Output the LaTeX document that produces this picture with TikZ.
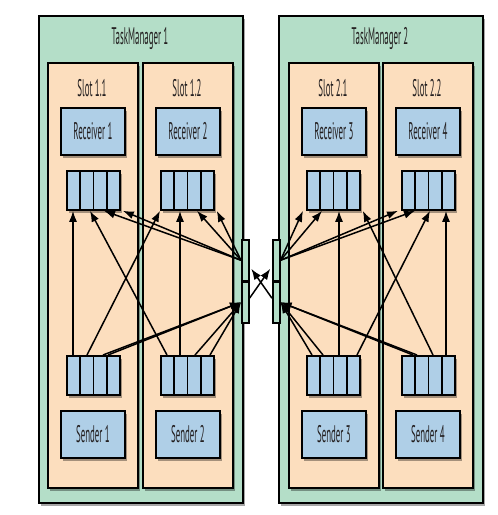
\documentclass[tikz,border=0pt]{standalone}
\usepackage{fontspec}
\newfontfamily\lblfont{PT Sans}[FakeStretch=0.37]
\usetikzlibrary{shadows,arrows.meta,calc}
\definecolor{tmgreen}{RGB}{180,222,200}
\definecolor{slotpeach}{RGB}{252,222,190}
\definecolor{boxblue}{RGB}{175,207,231}
\definecolor{inkc}{RGB}{35,31,32}
\tikzset{
  shad/.style={drop shadow={shadow xshift=2pt, shadow yshift=-3pt, opacity=0.35, fill=black}},
  tmbox/.style={draw=black, line width=1.8pt, fill=tmgreen, shad, rectangle, inner sep=0pt, anchor=north west, minimum width=204pt, minimum height=487pt},
  slotbox/.style={draw=black, line width=1.6pt, fill=slotpeach, shad, rectangle, inner sep=0pt, anchor=north west, minimum width=90pt, minimum height=425pt},
  comp/.style={draw=black, line width=1.8pt, fill=boxblue, shad, rectangle, inner sep=0pt, anchor=north west, minimum width=64pt, minimum height=47pt, font=\lblfont\fontsize{24}{28}\selectfont, text=inkc},
  queue/.style={draw=black, line width=1.8pt, fill=boxblue, shad, rectangle, inner sep=0pt, anchor=north west, minimum width=53pt, minimum height=39pt},
  netbox/.style={draw=black, line width=1.5pt, fill=tmgreen, rectangle, inner sep=0pt, anchor=north west, minimum width=7pt, minimum height=41pt},
  lbl/.style={font=\lblfont\fontsize{24}{28}\selectfont, text=inkc, inner sep=0pt},
  conn/.style={line width=1.5pt, draw=black, -{Latex[length=11pt,width=8pt]}},
}
\begin{document}
\begin{tikzpicture}[x=1pt,y=-1pt]
\useasboundingbox (0,0) rectangle (498,515);
% task managers
\node[tmbox] (tm1) at (38,15) {};
\node[tmbox] (tm2) at (278,15) {};
\node[lbl] (tm1t) at (140,38) {TaskManager 1};
\node[lbl] (tm2t) at (380,38) {TaskManager 2};
% slots
\node[slotbox] (sl11) at (47,62) {};
\node[slotbox] (sl12) at (142,62) {};
\node[slotbox] (sl21) at (288,62) {};
\node[slotbox] (sl22) at (382,62) {};
\node[lbl] (sl11t) at (92,88) {Slot 1.1};
\node[lbl] (sl12t) at (187,88) {Slot 1.2};
\node[lbl] (sl21t) at (333,88) {Slot 2.1};
\node[lbl] (sl22t) at (427,88) {Slot 2.2};
% receivers and senders
\node[comp] (r1) at (60,107) {Receiver 1};
\node[comp] (r2) at (155,107) {Receiver 2};
\node[comp] (r3) at (301,107) {Receiver 3};
\node[comp] (r4) at (395,107) {Receiver 4};
\node[comp] (s1) at (60,410) {Sender 1};
\node[comp] (s2) at (155,410) {Sender 2};
\node[comp] (s3) at (301,410) {Sender 3};
\node[comp] (s4) at (395,410) {Sender 4};
% queues
\node[queue] (q1) at (66,170) {};
\node[queue] (q2) at (160,170) {};
\node[queue] (q3) at (306,170) {};
\node[queue] (q4) at (401,170) {};
\node[queue] (sq1) at (66,355) {};
\node[queue] (sq2) at (160,355) {};
\node[queue] (sq3) at (306,355) {};
\node[queue] (sq4) at (401,355) {};
\foreach \q in {q1,q2,q3,q4,sq1,sq2,sq3,sq4}{
  \foreach \i in {1,2,3}{
    \draw[line width=1.6pt] ($(\q.north west)!\i/4!(\q.north east)$) -- ($(\q.south west)!\i/4!(\q.south east)$);
  }
}
% network buffers
\node[netbox] (n1in) at (241,239) {};
\node[netbox] (n1out) at (241,281) {};
\node[netbox] (n2in) at (272,239) {};
\node[netbox] (n2out) at (272,281) {};
% TM1 local connections
\draw[conn] ([xshift=7pt]sq1.north west) -- ([xshift=7pt]q1.south west);
\draw[conn] ([xshift=7pt]sq2.north west) -- ([xshift=24pt]q1.south west);
\draw[conn] ([xshift=21pt]sq1.north west) -- ([xshift=0pt]q2.south west);
\draw[conn] ([xshift=20pt]sq2.north west) -- ([xshift=20pt]q2.south west);
% TM1 incoming from network
\draw[conn] (n1in.west) -- ([xshift=38pt]q1.south west);
\draw[conn] (n1in.west) -- ([xshift=2pt]q1.south east);
\draw[conn] (n1in.west) -- ([xshift=37pt]q2.south west);
\draw[conn] (n1in.west) -- ([xshift=2pt]q2.south east);
% TM1 outgoing to network
\draw[conn] ([xshift=37pt]sq1.north west) -- (n1out.west);
\draw[conn] ([xshift=42pt]sq1.north west) -- (n1out.west);
\draw[conn] ([xshift=35pt]sq2.north west) -- (n1out.west);
\draw[conn] ([xshift=50pt]sq2.north west) -- (n1out.west);
% TM2 local connections
\draw[conn] ([xshift=33pt]sq3.north west) -- ([xshift=33pt]q3.south west);
\draw[conn] ([xshift=32pt]sq4.north west) -- ([xshift=2pt]q3.south east);
\draw[conn] ([xshift=51pt]sq3.north west) -- ([xshift=29pt]q4.south west);
\draw[conn] ([xshift=45pt]sq4.north west) -- ([xshift=45pt]q4.south west);
% TM2 incoming from network
\draw[conn] (n2in.east) -- ([xshift=-3pt]q3.south west);
\draw[conn] (n2in.east) -- ([xshift=16pt]q3.south west);
\draw[conn] (n2in.east) -- ([xshift=-3pt]q4.south west);
\draw[conn] (n2in.east) -- ([xshift=14pt]q4.south west);
% TM2 outgoing to network
\draw[conn] ([xshift=6pt]sq3.north west) -- (n2out.east);
\draw[conn] ([xshift=17pt]sq3.north west) -- (n2out.east);
\draw[conn] ([xshift=12pt]sq4.north west) -- (n2out.east);
\draw[conn] ([xshift=16pt]sq4.north west) -- (n2out.east);
% network crossing
\draw[conn, shorten >=3pt] ([yshift=4pt]n1out.east) -- ([yshift=-6pt]n2in.west);
\draw[conn, shorten >=3pt] ([yshift=4pt]n2out.west) -- ([yshift=-6pt]n1in.east);
\end{tikzpicture}
\end{document}
